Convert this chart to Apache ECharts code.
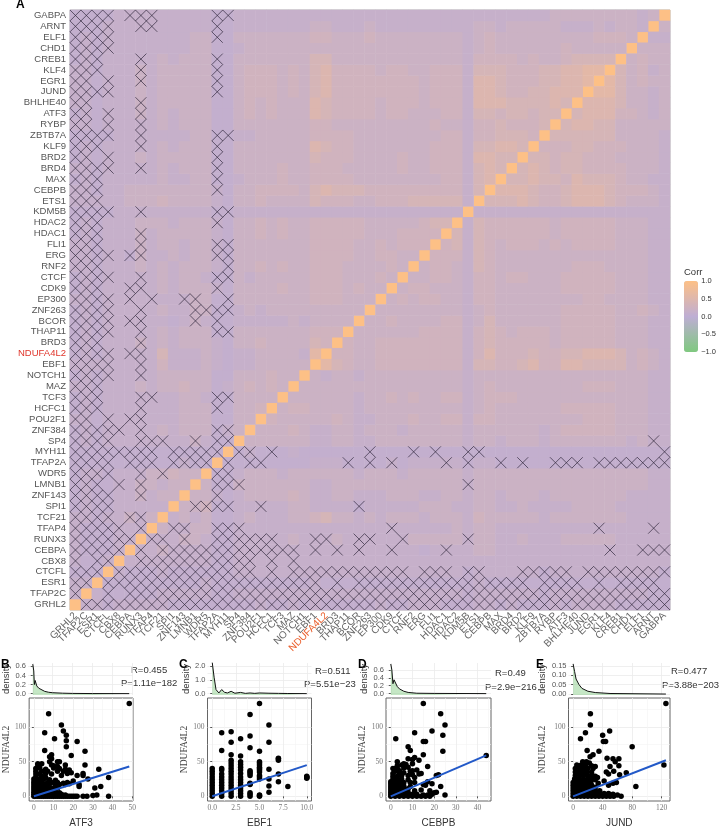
<!DOCTYPE html>
<html>
<head>
<meta charset="utf-8">
<style>
html, body { margin: 0; padding: 0; background: #fff; }
#chart { width: 719px; height: 829px; }
</style>
<script src="https://cdn.jsdelivr.net/npm/echarts@6/dist/echarts.min.js"></script>
</head>
<body>
<div id="chart"></div>
<script>
// order on the x axis, left to right (y axis runs the same way, bottom to top)
const genes = ['GRHL2', 'TFAP2C', 'ESR1', 'CTCFL', 'CBX8', 'CEBPA', 'RUNX3', 'TFAP4', 'TCF21', 'SPI1', 'ZNF143', 'LMNB1', 'WDR5', 'TFAP2A', 'MYH11', 'SP4', 'ZNF384', 'POU2F1', 'HCFC1', 'TCF3', 'MAZ', 'NOTCH1', 'EBF1', 'NDUFA4L2', 'BRD3', 'THAP11', 'BCOR', 'ZNF263', 'EP300', 'CDK9', 'CTCF', 'RNF2', 'ERG', 'FLI1', 'HDAC1', 'HDAC2', 'KDM5B', 'ETS1', 'CEBPB', 'MAX', 'BRD4', 'BRD2', 'KLF9', 'ZBTB7A', 'RYBP', 'ATF3', 'BHLHE40', 'JUND', 'EGR1', 'KLF4', 'CREB1', 'CHD1', 'ELF1', 'ARNT', 'GABPA'];

// corr shades, the digits below index this list
const corrLevels = [0.08, 0.13, 0.2, 0.28, 0.37, 0.47, 0.58];

// row i holds columns 0..i-1, the rest is mirrored
const corrDigits = [
	'',
	'1',
	'11',
	'000',
	'1001',
	'10001',
	'100011',
	'1000111',
	'11011212',
	'010011111',
	'0100112122',
	'01001122122',
	'011011122322',
	'0000000000100',
	'00000000000000',
	'0101 1 11111121 00',
	'0101 1 11121222 01 2',
	'1101 1 11111222 00 22',
	'0101 1 11111222 00 223',
	'0101 1 11111221 00 2222',
	'1101 1 12122322 01 23232',
	'0101 1 11122222 00 222322',
	'1111 1 11131112 10 1122222',
	'0101 1 11141112 10 1122221 6',
	'0101 1 12121222 10 2232222 43',
	'0101 1 11121222 00 2222222 33 3',
	'0101 1 11110121 00 1111121 22 22',
	'0101 1 11121122 00 1212222 22 222',
	'1101 1 11111122 00 2222222 33 3222',
	'0101 1 11121222 10 2222322 33 32322',
	'0101 1 11121221 00 2122222 33 322232',
	'1101 1 12121222 10 2232322 33 3222232',
	'1101 1 02112122 10 2222222 33 33223322',
	'1101 1 12122122 10 2222222 33 332232333',
	'0101 1 12122222 10 2232322 33 3332223333',
	'0101 1 12221222 10 2232322 33 33322222344',
	'0000 1 11111111 00 1111111 11 111111111111',
	'1111 1 22232222 10 2232222 43 332233344444 1',
	'1101 1 22222222 10 2233332 45 444333333333 1 4',
	'0101 1 11121122 00 1222322 33 332222222233 1 45',
	'1101 1 11121222 00 2222322 33 322222322333 1 454',
	'0101 1 12122222 00 2222222 43 332222322333 1 5544',
	'0101 1 11121222 00 2222222 54 332222222333 1 44554',
	'0000 1 11111122 00 1122222 33 332222222233 1 334443',
	'1101 1 11121222 00 2222222 33 222222222322 1 3343334',
	'0101 1 12121222 00 2323222 54 333323322233 1 44344344',
	'1101 1 12122222 00 2323222 54 333323332333 1 555444454',
	'1101 1 12122222 00 2333232 45 333333332333 1 5543344555',
	'1101 1 12122222 00 2333232 45 333333332333 1 55433344556',
	'1101 1 12122222 00 2333232 45 333323322333 1 444333445566',
	'0101 1 11121222 00 2222222 44 222222222222 1 3333232234444',
	'0101 1 11111122 00 1222222 22 222222222222 1 23222222322222',
	'0101 1 11111122 00 2222222 33 222322222222 1 232222222223332',
	'0001 1 11111111 00 1111111 22 111211111111 1 2212222211121221',
	'0000 1 11111111 00 1111111 11 111111111111 1 11111112222222212'
];

// crossed out cells, column indexes per row, top row (GABPA) first
const crossCols = [
	[0, 1, 2, 3, 5, 6, 7, 13, 14],
	[0, 1, 2, 3, 6, 7, 13],
	[0, 1, 2, 3, 13],
	[0, 1, 2, 3],
	[0, 1, 2, 6, 13],
	[0, 1, 2, 6, 13],
	[0, 1, 3, 6, 13],
	[0, 1, 2, 3, 13],
	[0, 1, 6],
	[0, 1, 3, 6],
	[0, 1, 3, 6],
	[0, 1, 2, 3, 6, 13, 14],
	[0, 1, 2, 6, 13],
	[0, 1, 3, 13],
	[0, 1, 2, 3, 6, 13],
	[0, 1, 2, 13],
	[0, 1, 2, 13],
	[0, 1, 2],
	[0, 1, 2, 3, 6, 13, 14],
	[0, 1, 2, 13],
	[0, 1, 2, 6],
	[0, 1, 2, 6, 13, 14],
	[0, 1, 2, 3, 5, 6, 13, 14],
	[0, 1, 2, 14],
	[0, 1, 2, 3, 6, 13, 14],
	[0, 1, 2, 5, 6, 13],
	[0, 1, 2, 3, 5, 7, 10, 11, 14],
	[0, 1, 2, 3, 6, 11, 12, 13, 14],
	[0, 1, 2, 3, 5, 6, 11, 13],
	[0, 1, 2, 3, 6, 13, 14],
	[0, 1, 2, 6],
	[0, 1, 2, 3, 5, 6],
	[0, 1, 2, 3, 6],
	[0, 1, 2, 3, 6],
	[0, 1, 2],
	[0, 1, 2, 6, 7, 13, 14],
	[0, 1, 2, 6, 13],
	[0, 1, 3, 5, 6],
	[0, 1, 2, 3, 4, 6, 13, 14],
	[0, 1, 2, 3, 6, 7, 8, 11, 13, 14, 53],
	[0, 1, 2, 3, 4, 5, 6, 7, 9, 10, 11, 12, 13, 15, 16, 18, 27, 31, 33, 36, 37, 54],
	[0, 1, 2, 3, 5, 6, 7, 9, 10, 11, 12, 14, 16, 17, 25, 27, 29, 34, 36, 39, 41, 44, 45, 46, 48, 49, 50, 51, 52, 53, 54],
	[0, 1, 2, 3, 6, 8, 13, 14],
	[0, 1, 2, 4, 6, 13, 14, 15, 36],
	[0, 1, 2, 3, 6, 13],
	[0, 1, 2, 3, 11, 12, 13, 14, 17, 26],
	[0, 1, 2, 3, 5, 6],
	[0, 1, 2, 3, 4, 6, 9, 10, 13, 14, 15, 29, 48, 53],
	[0, 1, 2, 3, 4, 5, 7, 8, 10, 13, 14, 15, 16, 17, 18, 22, 23, 26, 27, 30, 36],
	[0, 1, 2, 3, 4, 6, 8, 9, 10, 11, 12, 13, 14, 15, 16, 17, 18, 19, 20, 22, 24, 26, 29, 34, 49, 52, 53, 54],
	[0, 2, 3, 6, 7, 8, 9, 10, 11, 12, 13, 14, 15, 16, 18, 20],
	[0, 1, 2, 4, 5, 6, 7, 8, 9, 10, 11, 12, 13, 14, 15, 16, 18, 20, 21, 22, 23, 24, 25, 26, 27, 28, 29, 30, 32, 33, 34, 36, 37, 41, 42, 43, 44, 45, 47, 48, 49, 50, 51, 52, 53, 54],
	[0, 1, 3, 4, 5, 6, 7, 8, 9, 10, 11, 12, 13, 14, 15, 16, 17, 18, 19, 20, 21, 22, 24, 26, 27, 28, 29, 30, 31, 32, 33, 34, 35, 36, 37, 38, 39, 40, 41, 43, 44, 45, 46, 48, 50, 51, 52, 53],
	[0, 3, 5, 6, 7, 8, 9, 10, 11, 12, 13, 14, 15, 16, 17, 18, 19, 20, 21, 22, 23, 24, 25, 26, 27, 28, 29, 30, 31, 32, 33, 34, 35, 36, 37, 38, 39, 40, 41, 42, 43, 44, 45, 46, 47, 48, 49, 50, 51, 52, 53, 54],
	[1, 2, 3, 4, 5, 6, 7, 8, 9, 10, 11, 12, 13, 14, 15, 16, 17, 18, 19, 20, 21, 22, 23, 24, 25, 26, 27, 28, 29, 30, 31, 32, 33, 34, 35, 36, 37, 38, 39, 40, 41, 42, 43, 44, 45, 46, 47, 48, 49, 50, 51, 52, 53, 54]
];

const legendTicks = [-1, -0.5, 0, 0.5, 1];

// scatter panels, [gene, NDUFA4L2]
const atf3Points = [
	[48.5, 134], [7.5, 119], [14, 103], [15, 94], [5.5, 91.5], [16.5, 88], [10.5, 83], [16.5, 80], [22, 79], [16.5, 71.6], [5.5, 66], [26, 65], [9, 60], [19, 59], [8, 57], [26, 45], [33, 39], [25, 33], [25, 30], [38, 27], [27.5, 25], [23, 14], [34, 14], [31, 12], [32, 2], [38, 0], [30, 1], [27, 0], [25, 0], [22, 0], [21, 0], [23, 17], [20, 22], [22, 30], [19, 34], [18, 38], [16, 45],
	[0, 0], [1, 0], [2, 0], [3, 0], [4, 0], [5, 0], [6, 0], [7, 0], [8, 0], [9, 0], [10, 0], [11, 0], [12, 0], [13, 0], [14, 0], [15, 0], [16, 0], [17, 0], [18, 0], [19, 0], [20, 0],
	[0, 3], [2, 3], [4, 3], [6, 3], [8, 3], [10, 3], [12, 3], [14, 3], [16, 2],
	[0, 6], [1, 6], [3, 6], [5, 6], [7, 6], [9, 6], [11, 6], [13, 5],
	[0, 9], [2, 9], [4, 9], [6, 9], [8, 9], [10, 9],
	[0, 12], [1, 12], [3, 12], [5, 12], [7, 12], [9, 12], [12, 12],
	[0, 15], [2, 15], [4, 15], [6, 15], [11, 15],
	[0, 18], [1, 18], [3, 18], [5, 18], [8, 18], [13, 17], [16, 17], [18, 18],
	[0, 21], [2, 21], [4, 21], [7, 20], [10, 20], [12, 20], [15, 19], [17, 20],
	[0, 25], [2, 25], [3, 24], [5, 25], [8, 24], [11, 23],
	[1, 28], [4, 29], [6, 27], [1, 32], [3, 32], [6, 33], [9, 32], [14, 30],
	[1, 36], [4, 36], [7, 36], [12, 36], [15, 36], [17, 33], [1, 40], [3, 41], [6, 39], [10, 41], [13, 40], [16, 39], [2, 45], [9, 45], [10, 44], [12, 43], [2, 47], [4, 47], [8, 50], [12, 50], [13, 50], [9, 54]
];
const ebf1Points = [
	[0, 0], [0, 4], [0, 8], [0, 12], [0, 16], [0, 20], [0, 24], [0, 28], [0, 32], [0, 36], [0, 40],
	[1, 0], [1, 4], [1, 8], [1, 12], [1, 16], [1, 20], [1, 24], [1, 28], [1, 32], [1, 38], [1, 40], [1, 66], [1, 91.5],
	[2, 0], [2, 4], [2, 8], [2, 12], [2, 16], [2, 20], [2, 24], [2, 28], [2, 32], [2, 36], [2, 40], [2, 44], [2, 48], [2, 52], [2, 60], [2, 78], [2, 93],
	[3, 0], [3, 4], [3, 8], [3, 12], [3, 16], [3, 20], [3, 24], [3, 28], [3, 33], [3, 38], [3, 42], [3, 46], [3, 50], [3, 58], [3, 83],
	[4, 0], [4, 3], [4, 5], [4, 17], [4, 18], [4, 19], [4, 30], [4, 33], [4, 35], [4, 37], [4, 70], [4, 87], [4, 118],
	[5, 0], [5, 1], [5, 2], [5, 25], [5, 28], [5, 30], [5, 35], [5, 38], [5, 40], [5, 42], [5, 45], [5, 48], [5, 50], [5, 65], [5, 134],
	[6, 6], [6, 15], [6, 25], [6, 39], [6, 78], [6, 103],
	[7, 21], [7, 32], [7, 52], [7, 54], [7, 55],
	[8, 14],
	[10, 26], [10, 27], [10, 28], [10, 29]
];
const cebpbPoints = [
	[15, 134], [23, 119], [25, 103], [19, 94], [11, 91.5], [24, 88], [2.3, 83], [15, 79], [16, 79], [8, 71.6], [9, 66], [24, 65], [15, 60], [44, 59], [8, 54], [10, 53], [13, 52], [11, 56], [3, 50], [17, 43], [22, 31], [21, 30], [23, 14], [25, 2], [20, 5], [18, 8], [17, 21], [14, 9], [16, 16], [19, 18], [15, 17], [21, 6], [17, 2], [18, 0], [14, 33], [13, 32], [12, 38], [10, 37], [9, 36], [7, 46], [5, 45], [6, 47], [10, 47], [8, 30], [3, 40], [2, 40], [1, 40], [2, 36], [4, 37],
	[0, 0], [2, 0], [4, 0], [6, 0], [8, 0], [10, 0], [12, 0], [14, 0], [16, 0], [0, 3], [2, 3], [4, 3], [6, 3], [8, 3], [10, 3], [12, 3], [15, 2], [19, 3],
	[0, 6], [2, 6], [4, 6], [6, 6], [8, 6], [0, 9], [2, 9], [4, 9], [6, 9], [11, 8],
	[0, 12], [2, 12], [4, 12], [6, 12], [8, 11], [0, 15], [2, 15], [4, 15], [6, 15], [9, 14],
	[0, 18], [1, 18], [3, 18], [5, 18], [0, 21], [2, 21], [4, 21], [6, 20], [9, 20], [11, 20],
	[1, 25], [3, 25], [5, 25], [8, 24], [1, 29], [3, 29], [5, 30], [11, 27], [1, 33], [4, 33], [6, 34], [10, 31], [3, 44], [6, 41], [8, 42]
];
const jundPoints = [
	[125.7, 134], [23.4, 119], [23.4, 103], [49.5, 94], [16.7, 91.5], [40, 88], [10, 83], [41, 79], [44, 79], [80, 71.6], [19, 66], [35, 65], [27, 60], [23, 57], [46, 55], [54, 54], [62, 54], [57, 50], [50, 43], [62, 44], [123, 45], [72, 34], [63, 31], [55, 36], [45, 35], [48, 32], [58.6, 20], [85, 14], [65, 0], [60, 2], [54, 19], [48, 16], [42, 22],
	[0, 0], [5, 0], [10, 0], [15, 0], [20, 0], [25, 0], [30, 0], [35, 0], [40, 0], [45, 0], [50, 0], [55, 0],
	[0, 4], [6, 4], [12, 4], [18, 4], [24, 4], [30, 4], [36, 4], [42, 4], [48, 4], [54, 3],
	[0, 8], [6, 8], [12, 8], [18, 8], [24, 8], [30, 8], [36, 8],
	[0, 12], [6, 12], [12, 12], [18, 12], [24, 12], [30, 13],
	[0, 16], [5, 16], [10, 16], [15, 16], [20, 16], [25, 16],
	[0, 20], [6, 20], [12, 20], [18, 20], [24, 20], [34, 19],
	[2, 25], [8, 25], [14, 25], [20, 25], [26, 25], [30, 24], [33, 27],
	[3, 30], [9, 30], [14, 30], [20, 30], [26, 30], [30, 29],
	[3, 35], [8, 35], [13, 35], [18, 35], [25, 35],
	[3, 40], [9, 40], [14, 40], [20, 40], [27, 40],
	[5, 45], [11, 45], [17, 45], [25, 44], [30, 43],
	[13, 50], [18, 50], [22, 48]
];

// fitted lines
const atf3Fit = [[0, 0], [48.5, 43]];
const ebf1Fit = [[0, 0], [10, 45]];
const cebpbFit = [[0, 0], [44, 59]];
const jundFit = [[0, 0], [125.7, 52]];

// density curves above each scatter
const atf3Density = [[0, 0.65], [0.5, 0.5], [0.8, 0.2], [1.2, 0.29], [2, 0.17], [3, 0.12], [4, 0.09], [6, 0.05], [8, 0.03], [10, 0.02], [15, 0.01], [20, 0.005], [30, 0.002], [48.5, 0]];
const ebf1Density = [[0, 2.3], [0.2, 1.2], [0.4, 0.3], [0.7, 0.05], [1, 0.3], [1.3, 0.1], [1.6, 0.05], [2, 0.17], [2.4, 0.03], [3, 0.09], [3.5, 0.02], [4, 0.05], [4.5, 0.02], [5, 0.05], [6, 0.03], [7, 0.02], [8, 0.01], [10, 0]];
const cebpbDensity = [[0, 0.75], [0.5, 0.6], [1, 0.25], [1.5, 0.35], [2, 0.3], [3, 0.18], [4, 0.12], [6, 0.06], [8, 0.03], [12, 0.01], [20, 0.005], [44, 0]];
const jundDensity = [[0, 0.16], [1, 0.16], [2, 0.12], [4, 0.08], [8, 0.05], [12, 0.03], [20, 0.015], [30, 0.008], [50, 0.003], [125.7, 0]];

const yTicks = [0, 50, 100];
const yMinorTicks = [25, 75, 125];

const sansFont = '"Liberation Sans", Arial, sans-serif';
const serifFont = '"Liberation Serif", "Times New Roman", serif';
const crossSymbol = 'path://M0,0L10,10M10,0L0,10';

const heatData = [];
const n = genes.length;
const corrRows = corrDigits.map(r => r.replace(/ /g, ''));
for (let i = 0; i < n; i++) {
	heatData.push([i, i, 1]);
	for (let j = 0; j < i; j++) {
		const v = corrLevels[Number(corrRows[i][j] || 1)];
		heatData.push([j, i, v]);
		heatData.push([i, j, v]);
	}
}

const crossData = [];
crossCols.forEach((cols, k) => {
	cols.forEach(c => crossData.push([c, n - 1 - k]));
});

const grid = [{ left: 70, top: 10, width: 600, height: 600, show: true, borderColor: '#b3b3b3', borderWidth: 1, backgroundColor: 'transparent' }];
const xAxis = [{
	type: 'category',
	gridIndex: 0,
	data: genes.map(g => g === 'NDUFA4L2' ? { value: g, textStyle: { color: '#ea5f2d' } } : g),
	axisLine: { show: false },
	axisTick: { length: 3, alignWithLabel: true, lineStyle: { color: '#555' } },
	axisLabel: { rotate: 45, interval: 0, margin: 4, fontSize: 10, color: '#666', fontFamily: sansFont }
}];
const yAxis = [{
	type: 'category',
	gridIndex: 0,
	data: genes.map(g => g === 'NDUFA4L2' ? { value: g, textStyle: { color: '#e0352b' } } : g),
	axisLine: { show: false },
	axisTick: { length: 3, alignWithLabel: true, lineStyle: { color: '#555' } },
	axisLabel: { interval: 0, margin: 4, fontSize: 9.5, color: '#555', fontFamily: sansFont }
}];

const series = [
	{
		type: 'heatmap',
		xAxisIndex: 0,
		yAxisIndex: 0,
		data: heatData,
		silent: true,
		progressive: 0,
		itemStyle: { borderWidth: 0 }
	},
	{
		type: 'scatter',
		xAxisIndex: 0,
		yAxisIndex: 0,
		data: crossData,
		symbol: crossSymbol,
		symbolSize: 11,
		silent: true,
		itemStyle: { color: 'transparent', borderColor: '#2c2438', borderWidth: 0.8, opacity: 0.85 },
		z: 5
	}
];

const lightGrid = { show: true, lineStyle: { color: '#ebebeb', width: 0.8 } };
const faintGrid = { show: true, lineStyle: { color: '#f4f4f4', width: 0.6 } };

function addPanel(p) {
	const xRange = { min: p.xMin, max: p.xMax };

	// scatter, grid frame drawn by the grid itself
	const sg = grid.length;
	grid.push({ left: p.left, top: 698, width: p.width, height: 110, show: true, borderColor: '#666', borderWidth: 1, backgroundColor: '#fff' });
	const sx = xAxis.length;
	xAxis.push(Object.assign({
		type: 'value',
		gridIndex: sg,
		name: p.gene,
		nameLocation: 'middle',
		nameGap: 17,
		nameTextStyle: { fontSize: 10, color: '#333', fontFamily: sansFont },
		axisLine: { show: false },
		axisTick: { length: 2, customValues: p.xTicks, lineStyle: { color: '#555' } },
		axisLabel: { customValues: p.xTicks, margin: 3, fontSize: 7.5, color: '#777', fontFamily: serifFont, formatter: v => p.xFixed ? v.toFixed(p.xFixed) : String(v), showMinLabel: true, showMaxLabel: true },
		splitLine: lightGrid
	}, xRange));
	const sy = yAxis.length;
	yAxis.push({
		type: 'value',
		gridIndex: sg,
		min: -6.75,
		max: 141.75,
		name: 'NDUFA4L2',
		nameLocation: 'middle',
		nameRotate: 90,
		nameGap: p.nameGap,
		nameTextStyle: { fontSize: 9.5, color: '#444', fontFamily: serifFont },
		axisLine: { show: false },
		axisTick: { length: 2, customValues: yTicks, lineStyle: { color: '#555' } },
		axisLabel: { customValues: yTicks, margin: 3, fontSize: 7.5, color: '#777', fontFamily: serifFont },
		splitLine: lightGrid
	});

	// second pair of axes only for the minor grid lines
	xAxis.push(Object.assign({
		type: 'value',
		gridIndex: sg,
		position: 'top',
		axisLine: { show: false },
		axisTick: { show: false, customValues: p.xMinor },
		axisLabel: { show: false },
		splitLine: faintGrid
	}, xRange));
	yAxis.push({
		type: 'value',
		gridIndex: sg,
		position: 'right',
		min: -6.75,
		max: 141.75,
		axisLine: { show: false },
		axisTick: { show: false, customValues: yMinorTicks },
		axisLabel: { show: false },
		splitLine: faintGrid
	});

	series.push({
		type: 'scatter',
		xAxisIndex: sx,
		yAxisIndex: sy,
		data: p.points,
		symbolSize: 5.5,
		silent: true,
		itemStyle: { color: '#000', opacity: 1 },
		z: 3
	});
	series.push({
		type: 'line',
		xAxisIndex: sx,
		yAxisIndex: sy,
		data: p.fit,
		showSymbol: false,
		silent: true,
		lineStyle: { color: '#2259c8', width: 2 },
		z: 4
	});

	// density on top
	const dg = grid.length;
	grid.push({ left: p.left, top: 663, width: p.width, height: 32 });
	const dx = xAxis.length;
	xAxis.push(Object.assign({
		type: 'value',
		gridIndex: dg,
		axisLine: { show: false },
		axisTick: { show: false, customValues: p.xTicks },
		axisLabel: { show: false },
		splitLine: lightGrid
	}, xRange));
	const dy = yAxis.length;
	yAxis.push({
		type: 'value',
		gridIndex: dg,
		min: p.densMin,
		max: p.densMax,
		name: 'density',
		nameLocation: 'middle',
		nameRotate: 90,
		nameGap: p.densGap,
		nameTextStyle: { fontSize: 9.5, color: '#333', fontFamily: sansFont },
		axisLine: { show: false },
		axisTick: { length: 2, customValues: p.densTicks, lineStyle: { color: '#555' } },
		axisLabel: { customValues: p.densTicks, margin: 2, fontSize: 7.5, color: '#555', fontFamily: sansFont, hideOverlap: false, showMinLabel: true, showMaxLabel: true, formatter: v => v.toFixed(p.densFixed) },
		splitLine: lightGrid
	});
	series.push({
		type: 'line',
		xAxisIndex: dx,
		yAxisIndex: dy,
		data: p.density,
		showSymbol: false,
		silent: true,
		lineStyle: { color: '#111', width: 1 },
		areaStyle: { color: '#7fc97f', opacity: 0.45, origin: 'start' },
		z: 3
	});
}

addPanel({ gene: 'ATF3', left: 28, width: 105, xMin: -2.4, xMax: 50.4, xTicks: [0, 10, 20, 30, 40, 50], xMinor: [5, 15, 25, 35, 45], points: atf3Points, fit: atf3Fit, density: atf3Density, nameGap: 17, densMin: -0.03, densMax: 0.675, densTicks: [0, 0.2, 0.4, 0.6], densFixed: 1, densGap: 16 });
addPanel({ gene: 'EBF1', left: 207.5, width: 104, xMin: -0.5, xMax: 10.5, xFixed: 1, xTicks: [0, 2.5, 5, 7.5, 10], xMinor: [1.25, 3.75, 6.25, 8.75], points: ebf1Points, fit: ebf1Fit, density: ebf1Density, nameGap: 17, densMin: -0.1, densMax: 2.25, densTicks: [0, 0.5, 1, 1.5, 2], densFixed: 1, densGap: 16 });
addPanel({ gene: 'CEBPB', left: 386, width: 105, xMin: -2.2, xMax: 46.2, xTicks: [0, 10, 20, 30, 40], xMinor: [5, 15, 25, 35, 45], points: cebpbPoints, fit: cebpbFit, density: cebpbDensity, nameGap: 18, densMin: -0.035, densMax: 0.775, densTicks: [0, 0.2, 0.4, 0.6], densFixed: 1, densGap: 17 });
addPanel({ gene: 'JUND', left: 568.5, width: 101.5, xMin: -6.25, xMax: 131.25, xTicks: [0, 40, 80, 120], xMinor: [20, 60, 100], points: jundPoints, fit: jundFit, density: jundDensity, nameGap: 21, densMin: -0.005, densMax: 0.165, densTicks: [0, 0.05, 0.1, 0.15], densFixed: 2, densGap: 21 });

// axis next to the colour bar
const lg = grid.length;
grid.push({ left: 684, top: 281, width: 14, height: 71 });
xAxis.push({ type: 'value', gridIndex: lg, show: false, min: 0, max: 1 });
yAxis.push({
	type: 'value',
	gridIndex: lg,
	position: 'right',
	min: legendTicks[0],
	max: legendTicks[legendTicks.length - 1],
	interval: 0.5,
	axisLine: { show: false },
	axisTick: { show: false },
	axisLabel: { margin: 5, fontSize: 7.5, color: '#333', fontFamily: sansFont, formatter: v => v.toFixed(1).replace('-', '\u2212') },
	splitLine: { show: false }
});

function noteText(x, y, text, extra) {
	return {
		type: 'text',
		left: x,
		top: y,
		silent: true,
		style: Object.assign({ text: text, fontSize: 9.5, fill: '#333', fontFamily: sansFont, align: 'center', verticalAlign: 'middle' }, extra)
	};
}

const letterStyle = { fontSize: 12, fontWeight: 'bold', fill: '#000' };
const notes = [
	noteText(16, -1, 'A', letterStyle),
	noteText(1, 659, 'B', letterStyle),
	noteText(179, 659, 'C', letterStyle),
	noteText(358, 659, 'D', letterStyle),
	noteText(536, 659, 'E', letterStyle),
	noteText(684, 267, 'Corr', { fontSize: 9.5 }),
	noteText(131, 665, 'R=0.455'),
	noteText(121, 678, 'P=1.11e\u2212182'),
	noteText(315, 666, 'R=0.511'),
	noteText(304, 679, 'P=5.51e\u221223'),
	noteText(495, 668, 'R=0.49'),
	noteText(485, 682, 'P=2.9e\u2212216'),
	noteText(671, 666, 'R=0.477'),
	noteText(662, 680, 'P=3.88e\u2212203')
];

const chart = echarts.init(document.getElementById('chart'), null, { renderer: 'canvas' });
chart.setOption({
	animation: false,
	backgroundColor: '#fff',
	textStyle: { fontFamily: sansFont },
	grid: grid,
	xAxis: xAxis,
	yAxis: yAxis,
	visualMap: {
		type: 'continuous',
		seriesIndex: 0,
		min: -1,
		max: 1,
		left: 684,
		top: 281,
		padding: 0,
		itemWidth: 14,
		itemHeight: 71,
		text: null,
		showLabel: false,
		calculable: false,
		hoverLink: false,
		inRange: { color: ['#7FC97F', '#BEAED4', '#FDC086'] }
	},
	graphic: notes,
	series: series
});
</script>
</body>
</html>
